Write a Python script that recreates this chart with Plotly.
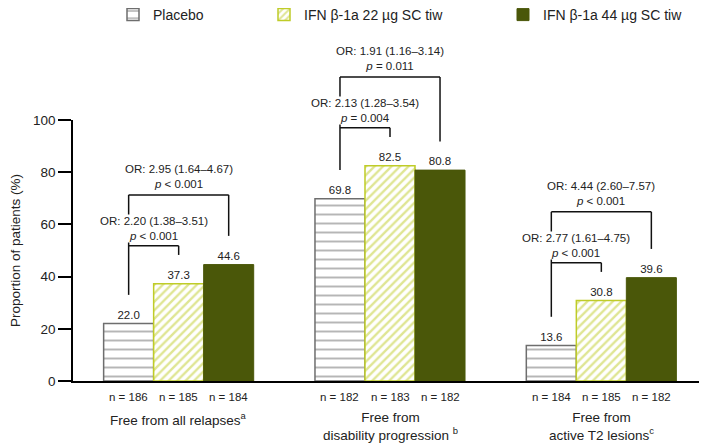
import plotly.graph_objects as go

# ---------------- data ----------------
categories = ["Free from all relapses<sup>a</sup>",
              "Free from<br>disability progression <sup>b</sup>",
              "Free from<br>active T2 lesions<sup>c</sup>"]
series_names = ["Placebo", "IFN β-1a 22 µg SC tiw", "IFN β-1a 44 µg SC tiw"]
placebo = [22.0, 69.8, 13.6]
ifn22 = [37.3, 82.5, 30.8]
ifn44 = [44.6, 80.8, 39.6]
n_placebo = [186, 182, 184]
n_ifn22 = [185, 183, 185]
n_ifn44 = [184, 182, 182]
or_22 = ["OR: 2.20 (1.38–3.51)", "OR: 2.13 (1.28–3.54)", "OR: 2.77 (1.61–4.75)"]
p_22 = ["&lt; 0.001", "= 0.004", "&lt; 0.001"]
or_44 = ["OR: 2.95 (1.64–4.67)", "OR: 1.91 (1.16–3.14)", "OR: 4.44 (2.60–7.57)"]
p_44 = ["&lt; 0.001", "= 0.011", "&lt; 0.001"]
y_ticks = [0, 20, 40, 60, 80, 100]
Y_RANGE = [0, 100]

# ---------------- style ----------------
GREY = "#6e6e6e"
LIME = "#bfcc28"
OLIVE = "#4a5709"
TXT = "#222222"
FONT = "Liberation Sans"
BARGAP = 0.29
W = (1 - BARGAP) / 3          # width of one bar in category units
LEG = 11.0                     # gap between bar top and bracket leg (data units)
ARM = 3.5                      # short arm length
OUTER_GAP = 19.5               # distance between inner and outer bracket
FIG_W, FIG_H = 699, 435        # page body adds an 8px offset


def dom(v):
    """data value -> y-domain fraction (lets marks sit above the axis range)"""
    return (v - Y_RANGE[0]) / (Y_RANGE[1] - Y_RANGE[0])


fig = go.Figure()
fig.add_trace(go.Bar(
    name=series_names[0], x=categories, y=placebo, legend="legend",
    marker=dict(color="white", line=dict(color=GREY, width=1.5),
                pattern=dict(shape="-", fgcolor=GREY, bgcolor="white", size=9, solidity=0.22)),
    texttemplate="%{y:.1f}", textposition="outside", cliponaxis=False,
    textfont=dict(size=11.5, color=TXT)))
fig.add_trace(go.Bar(
    name=series_names[1], x=categories, y=ifn22, legend="legend2",
    marker=dict(color="white", line=dict(color=LIME, width=1.5),
                pattern=dict(shape="/", fgcolor=LIME, bgcolor="white", size=6, solidity=0.4)),
    texttemplate="%{y:.1f}", textposition="outside", cliponaxis=False,
    textfont=dict(size=11.5, color=TXT)))
fig.add_trace(go.Bar(
    name=series_names[2], x=categories, y=ifn44, legend="legend3",
    marker=dict(color=OLIVE, line=dict(color=OLIVE, width=1)),
    texttemplate="%{y:.1f}", textposition="outside", cliponaxis=False,
    textfont=dict(size=11.5, color=TXT)))

annotations = []
shapes = []
line_style = dict(color="#111111", width=1.5)
YR = "y domain"
for i in range(len(categories)):
    xs = [i - W, i, i + W]
    vals = [placebo[i], ifn22[i], ifn44[i]]
    ns = [n_placebo[i], n_ifn22[i], n_ifn44[i]]
    # n labels under each bar
    for x, n in zip(xs, ns):
        annotations.append(dict(x=x, y=0, xref="x", yref="y", text=f"n = {n}",
                                showarrow=False, yshift=-16, yanchor="middle",
                                font=dict(size=11.5, color=TXT)))
    # category label
    annotations.append(dict(x=i, y=0, xref="x", yref="y", text=categories[i],
                            showarrow=False, yshift=-27, yanchor="top",
                            font=dict(size=13.5, color=TXT)))
    # brackets
    inner_y = max(vals[0], vals[1]) + LEG + ARM
    outer_y = max(inner_y + OUTER_GAP, vals[2] + LEG + ARM)
    segs = [
        (xs[0], xs[0], vals[0] + LEG, outer_y),   # shared left leg
        (xs[0], xs[1], inner_y, inner_y),          # inner bracket
        (xs[1], xs[1], vals[1] + LEG, inner_y),
        (xs[0], xs[2], outer_y, outer_y),          # outer bracket
        (xs[2], xs[2], vals[2] + LEG, outer_y),
    ]
    for x0, x1, y0, y1 in segs:
        shapes.append(dict(type="line", xref="x", yref=YR, x0=x0, x1=x1,
                           y0=dom(y0), y1=dom(y1), line=line_style, layer="below"))
    # OR texts (white box hides the shared leg behind them)
    annotations.append(dict(x=(xs[0] + xs[1]) / 2, y=dom(inner_y), xref="x", yref=YR,
                            text=f"{or_22[i]}<br><i>p</i> {p_22[i]}", showarrow=False,
                            yanchor="bottom", yshift=3, bgcolor="white", borderpad=0,
                            font=dict(size=11.5, color=TXT)))
    annotations.append(dict(x=(xs[0] + xs[2]) / 2, y=dom(outer_y), xref="x", yref=YR,
                            text=f"{or_44[i]}<br><i>p</i> {p_44[i]}", showarrow=False,
                            yanchor="bottom", yshift=3, font=dict(size=11.5, color=TXT)))

legend_common = dict(orientation="h", xref="container", yref="container",
                     y=1 - 7 / FIG_H, yanchor="middle", xanchor="left",
                     bgcolor="rgba(0,0,0,0)", font=dict(size=14, color=TXT, family=FONT))

fig.update_layout(
    width=FIG_W, height=FIG_H,
    margin=dict(l=65, r=0, t=112, b=62),
    paper_bgcolor="white", plot_bgcolor="white",
    font=dict(family=FONT, color=TXT),
    barmode="group", bargap=BARGAP, bargroupgap=0,
    showlegend=True,
    legend=dict(legend_common, x=105 / FIG_W),
    legend2=dict(legend_common, x=256 / FIG_W),
    legend3=dict(legend_common, x=495 / FIG_W),
    annotations=annotations, shapes=shapes,
    hovermode=False,
)
fig.update_xaxes(type="category", range=[-0.5, 2.5], showline=True, linecolor="black",
                 linewidth=1.5, showticklabels=False, ticks="", showgrid=False, zeroline=False)
fig.update_yaxes(range=Y_RANGE, tickvals=y_ticks, ticks="outside", ticklen=13, tickwidth=1.5,
                 tickcolor="black", showline=True, linecolor="black", linewidth=1.5,
                 showgrid=False, zeroline=False, tickfont=dict(size=13.5, color=TXT),
                 automargin=False,
                 title=dict(text="Proportion of patients (%)", font=dict(size=13.5, color=TXT),
                            standoff=20))

fig.write_html("out.html")
